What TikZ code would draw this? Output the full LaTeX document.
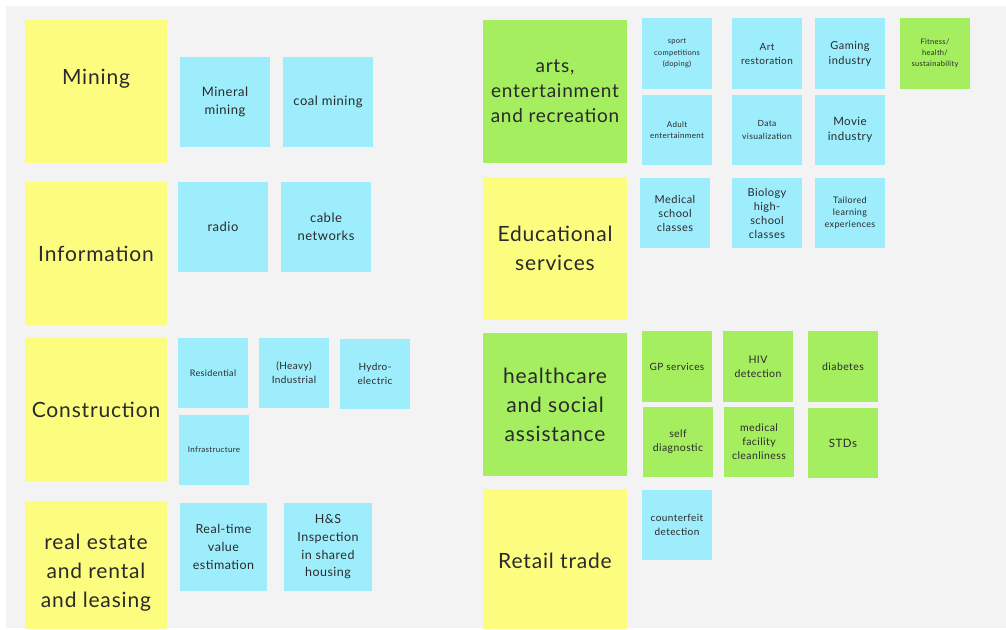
\documentclass[tikz,border=0pt]{standalone}
\usepackage{fontspec}
\setmainfont[LetterSpace=4]{Lato}
\definecolor{board}{HTML}{F3F3F3}
\definecolor{sticky}{HTML}{FCFC7F}
\definecolor{leaf}{HTML}{A4EE5F}
\definecolor{sky}{HTML}{9DEDFC}
\definecolor{ink}{HTML}{2A2A2A}
\tikzset{
  note/.style={anchor=north west, inner sep=0pt, outer sep=0pt, align=center,
    text=ink, draw=none},
  caption/.style={inner sep=0pt, align=center, text=ink}
}
% name, fill, left, top, width, height, font size, line skip, text
\newcommand\stickynote[9]{%
  \node[note, fill=#2, minimum width=#5pt, minimum height=#6pt,
        font=\fontsize{#7}{#8}\selectfont] (#1) at (#3,#4) {#9};}
\begin{document}
\begin{tikzpicture}[x=1pt,y=-1pt]
\useasboundingbox (0,0) rectangle (1006,629);
\fill[white] (0,0) rectangle (1006,629);
\fill[board] (6,6) rectangle (1006,628);
\begin{scope}
\clip (0,0) rectangle (1006,628);
% ---- left column: sectors
\stickynote{mining}{sticky}{25}{20}{142}{143}{21}{29}{}
\node[caption, font=\fontsize{21}{29}\selectfont] (miningtxt) at (96,78.5) {Mining};
\stickynote{information}{sticky}{25}{182}{142}{143}{21}{29}{Information}
\stickynote{construction}{sticky}{25}{338}{142}{143}{21}{29}{Construction}
\stickynote{realestate}{sticky}{25}{501}{142}{143}{21}{29}{real estate\\and rental\\and leasing}
% mining
\stickynote{mineral}{sky}{180}{57}{90}{90}{13}{18}{Mineral\\mining}
\stickynote{coal}{sky}{283}{57}{90}{90}{13}{18}{coal mining}
% information
\stickynote{radio}{sky}{178}{182}{90}{90}{13}{18}{radio}
\stickynote{cable}{sky}{281}{182}{90}{90}{13}{18}{cable\\networks}
% construction
\stickynote{residential}{sky}{178}{338}{70}{70}{9}{14}{Residential}
\stickynote{industrial}{sky}{259}{338}{70}{70}{10}{14}{(Heavy)\\Industrial}
\stickynote{hydro}{sky}{340}{339}{70}{70}{10}{14}{Hydro-\\electric}
\stickynote{infra}{sky}{179}{415}{70}{70}{8}{12}{Infrastructure}
% real estate
\stickynote{realtime}{sky}{180}{503}{87}{88}{12.5}{17.6}{Real-time\\value\\estimation}
\stickynote{hs}{sky}{284}{503}{88}{88}{12.5}{17.6}{H\&S\\Inspection\\in shared\\housing}
% ---- right column: sectors
\stickynote{arts}{leaf}{483}{20}{144}{143}{19}{25}{arts,\\entertainment\\and recreation}
\stickynote{education}{sticky}{483}{177}{144}{143}{21}{29}{Educational\\services}
\stickynote{health}{leaf}{483}{333}{144}{143}{21}{29}{healthcare\\and social\\assistance}
\stickynote{retail}{sticky}{483}{489}{144}{143}{21}{29}{Retail trade}
% arts
\stickynote{sport}{sky}{642}{18}{70}{71}{7.5}{11.5}{sport\\competitions\\(doping)}
\stickynote{artrest}{sky}{732}{18}{70}{71}{10}{14}{Art\\restoration}
\stickynote{gaming}{sky}{815}{18}{70}{71}{11}{15}{Gaming\\industry}
\stickynote{fitness}{leaf}{900}{18}{70}{71}{7.5}{11}{Fitness/\\health/\\sustainability}
\stickynote{adult}{sky}{642}{95}{70}{70}{8}{11}{Adult\\entertainment}
\stickynote{dataviz}{sky}{732}{95}{70}{70}{8.5}{13}{Data\\visualization}
\stickynote{movie}{sky}{815}{95}{70}{70}{11.5}{14.6}{Movie\\industry}
% education
\stickynote{medschool}{sky}{640}{178}{70}{70}{11}{14}{Medical\\school\\classes}
\stickynote{biology}{sky}{732}{178}{70}{70}{11}{14}{Biology\\high-\\school\\classes}
\stickynote{tailored}{sky}{815}{178}{70}{70}{9}{12.3}{Tailored\\learning\\experiences}
% health
\stickynote{gp}{leaf}{642}{331}{70}{71}{10}{14}{GP services}
\stickynote{hiv}{leaf}{723}{331}{70}{71}{10.5}{14}{HIV\\detection}
\stickynote{diabetes}{leaf}{808}{331}{70}{71}{10.5}{14}{diabetes}
\stickynote{selfdiag}{leaf}{643}{407}{70}{70}{10.5}{14}{self\\diagnostic}
\stickynote{facility}{leaf}{724}{407}{70}{70}{10.5}{14}{medical\\facility\\cleanliness}
\stickynote{stds}{leaf}{808}{408}{70}{70}{11.5}{14}{STDs}
% retail
\stickynote{counterfeit}{sky}{642}{490}{70}{70}{10}{14}{counterfeit\\detection}
\end{scope}
\end{tikzpicture}
\end{document}
